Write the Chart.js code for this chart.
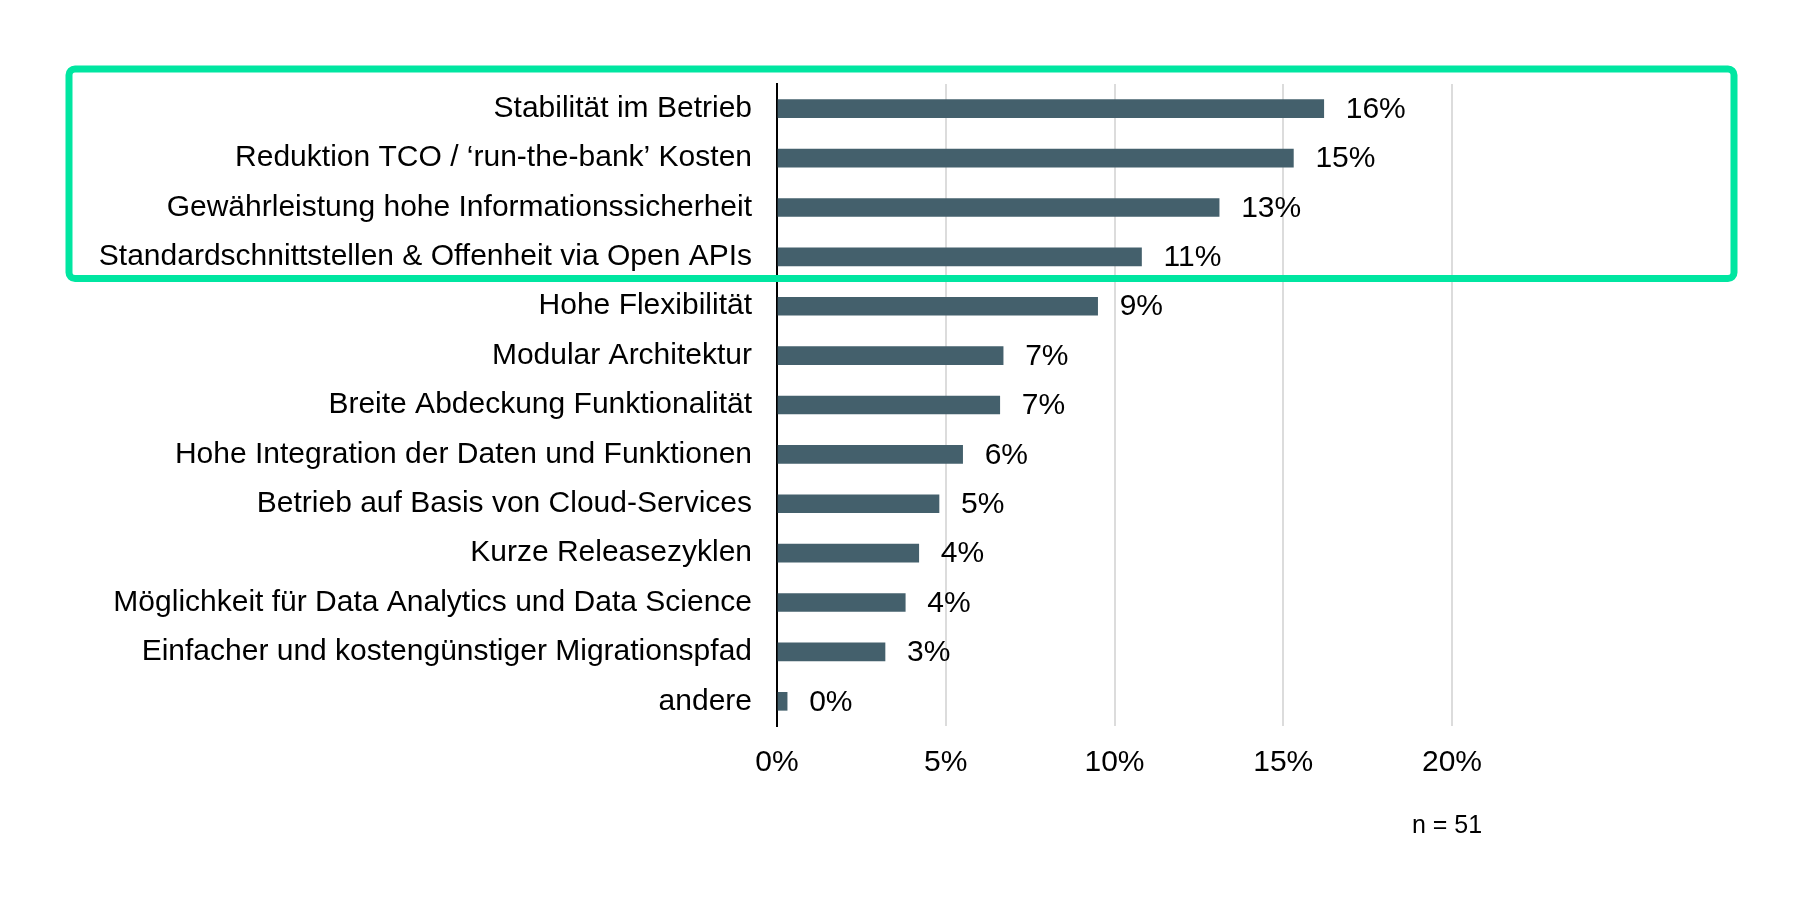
<!DOCTYPE html>
<html>
<head>
<meta charset="utf-8">
<script src="https://cdn.jsdelivr.net/npm/chart.js@4"></script>
<style>
  html, body { margin: 0; padding: 0; background: #fff; }
  #wrap { width: 1800px; height: 900px; }
</style>
</head>
<body>
<div id="wrap"><canvas id="chart" width="1800" height="900"></canvas></div>
<script>
const categories = [
  'Stabilität im Betrieb',
  'Reduktion TCO / ‘run-the-bank’ Kosten',
  'Gewährleistung hohe Informationssicherheit',
  'Standardschnittstellen & Offenheit via Open APIs',
  'Hohe Flexibilität',
  'Modular Architektur',
  'Breite Abdeckung Funktionalität',
  'Hohe Integration der Daten und Funktionen',
  'Betrieb auf Basis von Cloud-Services',
  'Kurze Releasezyklen',
  'Möglichkeit für Data Analytics und Data Science',
  'Einfacher und kostengünstiger Migrationspfad',
  'andere'
];
const shares = [16.2, 15.3, 13.1, 10.8, 9.5, 6.7, 6.6, 5.5, 4.8, 4.2, 3.8, 3.2, 0.3];
const shareLabels = ['16%', '15%', '13%', '11%', '9%', '7%', '7%', '6%', '5%', '4%', '4%', '3%', '0%'];
const xTicks = [0, 5, 10, 15, 20];
const sampleNote = 'n = 51';
const highlightedRows = 4;

const font = 'Liberation Sans, Arial, sans-serif';

// value labels right of each bar
const barLabels = {
  id: 'barLabels',
  afterDatasetsDraw(chart) {
    const ctx = chart.ctx;
    const meta = chart.getDatasetMeta(0);
    ctx.save();
    ctx.font = '30px ' + font;
    ctx.fillStyle = '#000';
    ctx.textAlign = 'left';
    ctx.textBaseline = 'middle';
    meta.data.forEach((bar, i) => {
      ctx.fillText(shareLabels[i], bar.x + 22, bar.y + 1);
    });
    ctx.restore();
  }
};

// green frame around the top rows + n note
const extras = {
  id: 'extras',
  afterDraw(chart) {
    const ctx = chart.ctx;
    const area = chart.chartArea;
    const rowH = (area.bottom - area.top) / categories.length;
    ctx.save();
    ctx.strokeStyle = '#00e6a1';
    ctx.lineWidth = 7;
    ctx.beginPath();
    ctx.roundRect(69, area.top - 15, 1734 - 69, rowH * highlightedRows + 12, 6);
    ctx.stroke();
    ctx.font = '25px ' + font;
    ctx.fillStyle = '#000';
    ctx.textAlign = 'center';
    ctx.textBaseline = 'middle';
    ctx.fillText(sampleNote, 1447, 826);
    ctx.restore();
  }
};

new Chart(document.getElementById('chart'), {
  type: 'bar',
  data: {
    labels: categories,
    datasets: [{
      data: shares,
      backgroundColor: '#44606c',
      barThickness: 18
    }]
  },
  options: {
    indexAxis: 'y',
    responsive: false,
    animation: false,
    layout: { padding: { top: 84, right: 348, bottom: 0, left: 0 } },
    plugins: { legend: { display: false }, tooltip: { enabled: false } },
    scales: {
      x: {
        min: 0,
        max: 20,
        afterBuildTicks(scale) { scale.ticks = xTicks.map(v => ({ value: v })); },
        afterFit(scale) { scale.height = 174; },
        grid: { color: '#dcdcdc', lineWidth: 2, drawTicks: false },
        border: { display: false },
        ticks: {
          padding: 19,
          color: '#000',
          font: { family: font, size: 30 },
          callback: v => v + '%'
        }
      },
      y: {
        afterFit(scale) { scale.width = 777; },
        grid: { display: false, drawTicks: false },
        border: { display: true, color: '#000', width: 2 },
        ticks: {
          padding: 25,
          color: '#000',
          font: { family: font, size: 30 }
        }
      }
    }
  },
  plugins: [barLabels, extras]
});
</script>
</body>
</html>
